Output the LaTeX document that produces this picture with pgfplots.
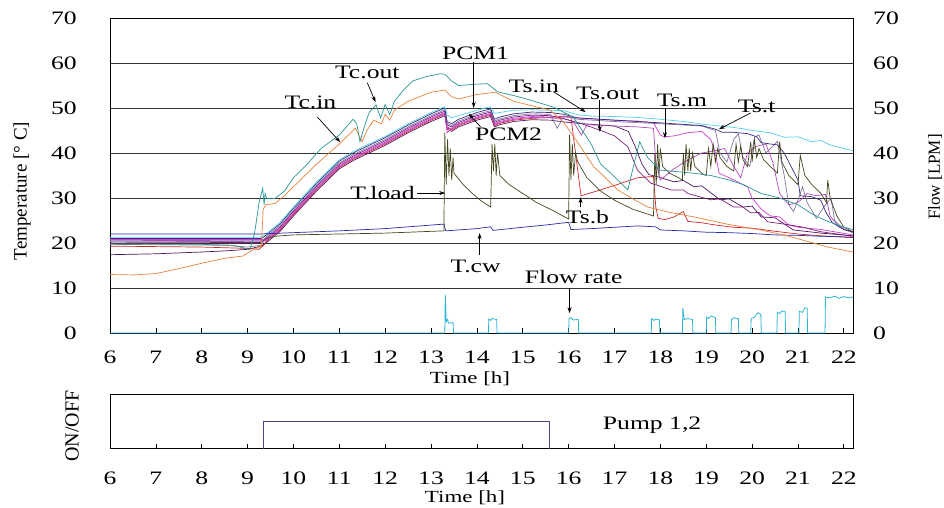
\documentclass[border=0pt]{standalone}
\usepackage{fontspec}
\setmainfont{Liberation Serif}
\newfontfamily\bt[FakeStretch=1.35]{Liberation Serif}
\usepackage{pgfplots}
\pgfplotsset{compat=1.18}
\usetikzlibrary{arrows.meta}
\definecolor{cteal}{RGB}{40,150,150}
\definecolor{corange}{RGB}{232,130,60}
\definecolor{ccyan}{RGB}{80,210,230}
\definecolor{ctst}{RGB}{60,40,130}
\definecolor{cgpur}{RGB}{130,115,160}
\definecolor{cpur}{RGB}{125,30,125}
\definecolor{cmag}{RGB}{210,60,210}
\definecolor{cmag2}{RGB}{180,70,190}
\definecolor{cred}{RGB}{210,40,40}
\definecolor{cdpur}{RGB}{80,20,100}
\definecolor{cload}{RGB}{70,70,30}
\definecolor{ccw}{RGB}{40,40,170}
\definecolor{cflow}{RGB}{40,180,215}
\definecolor{cpump}{RGB}{70,70,130}
\begin{document}
\begin{tikzpicture}
\path[use as bounding box] (0,0) rectangle (944pt,507pt);
\pgfplotsset{every axis plot/.append style={line width=0.7pt}}
% ---------------- top axis (temperature) ----------------
\begin{axis}[at={(110pt,174pt)}, anchor=south west, scale only axis,
  width=743pt, height=315pt, xmin=6, xmax=22.2, ymin=0, ymax=70,
  xtick={6,...,22}, ytick={0,10,...,70}, xtick pos=bottom, ytick pos=left,
  tick align=inside, major tick length=5pt, y tick style={draw=none},
  x tick style={black, line width=0.7pt},
  ymajorgrids, grid style={black!80, line width=0.6pt},
  axis line style={line width=0.7pt},
  /pgf/number format/assume math mode=true,
  ticklabel style={font=\bt\fontsize{19}{19}\selectfont, inner sep=0pt},
  xticklabel style={anchor=center, yshift=-24pt},
  yticklabel style={anchor=east, xshift=-33pt}]
% pre-heating gray line
\addplot[color=gray] coordinates {(6,19.7)(8.5,19.5)(9.0,19.1)(9.3,19.5)(9.4,21.0)};
% dark purple
\addplot[color=cdpur] coordinates {(6,17.4)(7,17.6)(8,18.0)(8.6,18.3)(9.0,18.6)(9.3,19.3)(9.4,20.0)(9.7,22.5)(10,26.0)(10.5,31.5)(11,36.5)(11.3,38.3)(11.5,39.3)(12,41.7)(12.5,44.5)(13,47.0)(13.3,48.3)(13.35,45.3)(13.45,44.8)(13.6,45.8)(14,47.3)(14.3,48.1)(14.38,45.8)(14.5,46.3)(14.8,47.0)(15.2,47.4)(15.6,47.3)(15.9,46.9)(16.2,46.6)(16.6,46.3)(17.0,46.0)(17.3,44.8)(17.45,41.5)(17.6,37.5)(17.75,35.2)(17.95,34.7)(18.3,33.6)(18.5,33.9)(18.73,32.5)(18.9,32.7)(19.3,29.6)(19.5,29.8)(19.8,28.0)(20.0,28.2)(20.2,25.8)(20.5,25.6)(20.9,22.9)(21.5,22.2)(22.2,21.6)};
% red Ts.b
\addplot[color=cred] coordinates {(6,19.3)(8,19.1)(9.0,18.8)(9.25,18.6)(9.35,19.5)(9.4,20.3)(9.7,22.8)(10,26.3)(10.5,31.8)(11,36.8)(11.3,38.6)(11.5,39.6)(12,42.0)(12.5,44.8)(13,47.3)(13.3,48.6)(13.35,45.6)(13.45,45.1)(13.6,46.1)(14,47.6)(14.3,48.4)(14.38,46.1)(14.5,46.6)(14.8,47.3)(15.2,47.7)(15.6,47.9)(15.9,48.2)(16.05,48.0)(16.1,44.0)(16.2,36.0)(16.27,30.5)(16.6,31.5)(17.0,32.8)(17.5,34.5)(17.85,34.8)(17.9,28.0)(17.95,25.5)(18.1,25.2)(18.3,25.8)(18.5,27.0)(18.6,24.8)(18.9,24.5)(19.2,24.0)(19.6,23.5)(20.0,23.3)(20.5,22.6)(21.0,22.0)(21.5,21.6)(22.2,21.2)};
% magenta2
\addplot[color=cmag2] coordinates {(6,20.6)(9.3,20.5)(9.4,20.5)(9.7,23.0)(10,26.5)(10.5,32.0)(11,37.0)(11.3,38.8)(11.5,39.8)(12,42.2)(12.5,45.0)(13,47.5)(13.3,48.8)(13.35,45.8)(13.45,45.3)(13.6,46.3)(14,47.8)(14.3,48.6)(14.38,46.3)(14.5,46.8)(14.8,47.5)(15.2,47.9)(15.6,47.8)(15.9,47.6)(16.1,47.0)(16.28,44.0)(16.4,46.3)(17.0,46.0)(17.5,45.8)(17.85,45.5)(17.9,38.0)(18.0,34.0)(18.3,36.5)(18.6,38.5)(18.9,40.0)(19.2,40.5)(19.4,41.0)(19.6,37.0)(19.75,34.5)(19.9,40.0)(20.1,41.5)(20.3,42.0)(20.45,38.0)(20.6,31.0)(20.8,28.5)(21.0,29.0)(21.2,31.0)(21.4,30.5)(21.6,30.8)(21.7,26.0)(21.9,23.5)(22.2,22.3)};
% magenta Ts.m
\addplot[color=cmag] coordinates {(6,20.8)(9.3,20.8)(9.4,20.7)(9.7,23.2)(10,26.7)(10.5,32.2)(11,37.2)(11.3,39.0)(11.5,40.0)(12,42.4)(12.5,45.2)(13,47.7)(13.3,49.0)(13.35,44.5)(13.45,45.5)(13.6,46.5)(14,48.0)(14.3,48.8)(14.38,46.5)(14.5,47.0)(14.8,47.7)(15.2,48.1)(15.6,48.0)(15.9,48.0)(16.5,47.6)(17.0,47.3)(17.5,47.1)(17.85,46.7)(18.0,44.0)(18.08,43.6)(18.3,43.8)(18.6,44.5)(18.9,44.8)(19.1,43.0)(19.2,40.0)(19.28,35.5)(19.5,34.5)(19.7,33.5)(19.9,32.5)(20.0,30.0)(20.2,27.5)(20.4,26.0)(20.6,25.8)(20.8,24.0)(21.0,23.5)(21.5,23.0)(22.2,21.8)};
% purple Ts.out
\addplot[color=cpur] coordinates {(6,20.2)(9.3,20.1)(9.4,21.0)(9.7,23.5)(10,27.0)(10.5,32.5)(11,37.5)(11.3,39.3)(11.5,40.3)(12,42.7)(12.5,45.5)(13,48.0)(13.3,49.3)(13.35,46.3)(13.45,45.8)(13.6,46.8)(14,48.3)(14.3,49.1)(14.38,46.8)(14.5,47.3)(14.8,48.0)(15.2,48.4)(15.6,48.3)(15.83,47.8)(16.26,46.6)(16.7,45.0)(17.0,43.8)(17.29,41.4)(17.5,36.2)(17.79,33.3)(18.0,32.6)(18.23,31.8)(18.5,31.8)(18.6,31.0)(18.88,30.2)(19.1,29.6)(19.3,29.8)(19.6,28.0)(19.8,28.0)(19.97,26.7)(20.15,26.8)(20.34,24.7)(20.7,24.2)(21.07,23.6)(21.5,22.5)(22.2,21.5)};
% gray purple
\addplot[color=cgpur] coordinates {(6,20.4)(9.3,20.3)(9.4,21.3)(9.7,23.8)(10,27.3)(10.5,32.8)(11,37.8)(11.3,39.6)(11.5,40.6)(12,43.0)(12.5,45.8)(13,48.3)(13.3,49.6)(13.35,46.6)(13.45,46.1)(13.6,47.1)(14,48.6)(14.3,49.4)(14.38,47.1)(14.5,47.6)(14.8,48.3)(15.2,48.7)(15.6,48.6)(15.75,45.5)(15.9,48.2)(16.2,47.5)(17,47.0)(18,46.5)(18.9,46.0)(19.2,45.0)(19.3,40.0)(19.45,38.0)(19.6,43.0)(19.7,44.3)(19.8,39.0)(19.95,37.0)(20.05,43.5)(20.15,44.0)(20.3,40.0)(20.45,41.5)(20.55,42.6)(20.7,35.0)(20.8,28.5)(20.9,27.0)(21.0,29.5)(21.1,32.5)(21.2,29.0)(21.4,25.5)(21.6,28.5)(21.72,30.0)(21.8,25.0)(22.0,23.0)(22.2,22.3)};
% Ts.t navy purple
\addplot[color=ctst] coordinates {(6,21.0)(9.3,21.0)(9.4,21.7)(9.7,24.2)(10,27.7)(10.5,33.2)(11,38.2)(11.3,40.0)(11.5,41.0)(12,43.4)(12.5,46.2)(13,48.7)(13.3,50.0)(13.35,47.0)(13.45,46.5)(13.6,47.5)(14,49.0)(14.3,49.8)(14.38,47.5)(14.5,48.0)(14.8,48.7)(15.2,49.1)(15.6,49.0)(15.9,48.6)(16.2,47.8)(17,47.3)(18,46.7)(18.9,46.1)(19.2,45.3)(19.35,44.6)(19.6,44.6)(19.9,44.3)(20.1,43.6)(20.2,42.3)(20.4,42.0)(20.55,41.8)(20.7,40.0)(20.85,37.0)(21.0,34.0)(21.05,30.5)(21.3,30.3)(21.5,29.5)(21.6,27.0)(21.75,24.5)(22.0,23.0)(22.2,22.5)};
% cyan Ts.in
\addplot[color=ccyan] coordinates {(6,21.3)(9.3,21.3)(9.4,22.0)(9.7,24.5)(10,28.0)(10.5,33.5)(11,38.5)(11.3,40.3)(11.5,41.3)(12,43.7)(12.5,46.5)(13,49.0)(13.3,50.3)(13.35,48.5)(13.45,47.8)(13.6,48.3)(14,49.5)(14.3,50.3)(14.38,48.8)(14.5,49.0)(14.8,49.5)(15.2,49.6)(15.6,49.5)(15.9,49.4)(16.2,48.5)(16.5,48.2)(17,48.1)(17.5,47.9)(18,47.5)(18.5,47.0)(19,46.3)(19.3,46.0)(19.5,45.8)(19.8,45.4)(20,45.0)(20.4,44.5)(20.7,43.5)(21,43.6)(21.3,42.5)(21.5,42.8)(21.7,41.8)(22.0,41.0)(22.2,40.5)};
% T.cw
\addplot[color=ccw] coordinates {(6,22.0)(9.3,22.0)(9.5,22.1)(10,22.3)(11,22.7)(12,23.2)(13.28,24.2)(13.32,22.7)(14.0,23.2)(14.3,23.6)(14.35,22.8)(15.0,23.5)(15.5,24.0)(16.0,24.6)(16.05,23.0)(16.5,23.2)(17.0,23.5)(17.5,23.8)(17.9,23.6)(18.0,22.9)(18.5,22.7)(19.0,22.4)(19.5,22.3)(20.0,22.1)(20.5,21.8)(21.0,21.7)(21.5,21.5)(22.2,21.3)};
% T.load
\addplot[color=cload] coordinates {(9.4,21.0)(9.6,21.5)(10,21.8)(11,22.0)(12,22.2)(13.28,22.7)(13.3,44.5)(13.33,33)(13.36,43)(13.39,35)(13.42,41)(13.45,34)(13.48,39)(13.5,35.5)(13.7,33)(13.9,31)(14.1,29.3)(14.3,28)(14.33,42)(14.36,36)(14.39,42)(14.42,35)(14.45,40)(14.5,35)(14.7,33)(15.0,31)(15.3,29)(15.7,27)(16.0,25.3)(16.02,44)(16.05,34)(16.08,42)(16.11,35)(16.15,40)(16.2,38)(16.4,34.5)(16.7,31.5)(17.0,29.5)(17.4,27.5)(17.85,26)(17.88,40)(17.91,33)(17.94,42)(17.97,35)(18.0,41)(18.05,37)(18.2,35.5)(18.4,34.5)(18.48,34)(18.5,40)(18.53,35)(18.56,42)(18.6,36)(18.63,41)(18.66,36)(18.7,40)(18.75,37)(18.9,35.5)(19.0,35)(19.05,41)(19.1,37)(19.15,42)(19.2,38)(19.25,41)(19.3,39)(19.45,37)(19.6,36)(19.65,42)(19.7,38)(19.75,41.5)(19.8,38.5)(19.9,37)(19.97,42.5)(20.0,38)(20.05,43)(20.1,39)(20.15,41)(20.25,38.5)(20.4,37)(20.55,35.5)(20.6,42.5)(20.65,38)(20.8,35)(21.0,33)(21.05,39.5)(21.15,35)(21.3,33)(21.5,31)(21.62,29)(21.65,34)(21.7,30)(21.85,26)(22.0,23.5)(22.2,22.5)};
% Tc.in
\addplot[color=corange] coordinates {(6,13)(6.5,12.9)(7,13.2)(7.5,14.3)(8,15.5)(8.5,16.6)(8.9,17.1)(9.0,17.8)(9.15,18.6)(9.3,19.3)(9.34,27.5)(9.4,28.5)(9.6,28.8)(9.8,30.5)(10,32.5)(10.5,37.5)(11,42)(11.35,45.5)(11.5,42.5)(11.6,45)(11.75,47.3)(11.85,46.8)(11.92,46.5)(12.0,48.6)(12.1,47.3)(12.2,49.5)(12.5,51.5)(13.0,53.5)(13.3,54.0)(13.45,52.5)(13.6,52)(14.0,53.0)(14.4,53.5)(14.6,52.5)(14.8,51.5)(15.2,50.5)(15.6,49.5)(15.9,46.7)(16.26,41.4)(16.55,36.9)(16.7,35.5)(17.07,31.8)(17.4,29.8)(17.72,28)(18.2,26.8)(18.73,25.8)(19.5,24.1)(20.19,22.9)(20.8,21.5)(21.65,19.1)(22.2,18)};
% Tc.out
\addplot[color=cteal] coordinates {(6,19.8)(8,19.7)(8.7,19.5)(9.05,18.5)(9.15,22)(9.25,29)(9.33,32.2)(9.36,28.5)(9.38,31)(9.42,29.8)(9.6,29.9)(9.8,31.5)(10,34.5)(10.3,37.5)(10.6,41)(11,44)(11.3,47.5)(11.38,46.5)(11.45,42.5)(11.55,46)(11.65,49)(11.8,50.7)(11.9,47.8)(12.0,50.8)(12.1,48.5)(12.2,51.5)(12.4,54)(12.6,56)(12.9,57)(13.2,57.6)(13.3,57.5)(13.45,56)(13.6,55)(14.0,55.3)(14.23,55.4)(14.45,53.6)(14.95,52.4)(15.67,50.2)(16.1,48)(16.48,42.2)(16.7,37.5)(16.92,35.5)(17.29,31.8)(17.46,39)(17.55,42.5)(17.72,39)(18.0,36.2)(18.73,35.5)(19.1,35)(19.5,34)(19.8,33)(20.2,31)(20.6,30)(21.0,28.5)(21.3,26.5)(21.6,25)(22.0,23.5)(22.2,23)};
% annotations
\tikzset{ann/.style={font=\bt\fontsize{19}{19}\selectfont, inner sep=0pt},
         arr/.style={-{Stealth[length=6pt,width=4pt]}, line width=0.7pt, black}}
\node[ann] at (axis cs:10.37,51.3) {Tc.in};
\draw[arr] (axis cs:10.52,48.0) -- (axis cs:11.02,42.4);
\node[ann] at (axis cs:11.61,57.8) {Tc.out};
\draw[arr] (axis cs:11.61,55.6) -- (axis cs:11.79,51.3);
\node[ann] at (axis cs:13.97,62.2) {PCM1};
\draw[arr] (axis cs:13.93,60.2) -- (axis cs:13.93,50.0);
\node[ann] at (axis cs:14.69,44.2) {PCM2};
\draw[arr] (axis cs:14.08,45.8) -- (axis cs:13.82,48.7);
\node[ann] at (axis cs:15.24,54.9) {Ts.in};
\draw[arr] (axis cs:15.67,53.6) -- (axis cs:16.37,49.1);
\node[ann] at (axis cs:16.85,53.3) {Ts.out};
\draw[arr] (axis cs:16.68,51.8) -- (axis cs:16.68,44.7);
\node[ann] at (axis cs:18.47,51.6) {Ts.m};
\draw[arr] (axis cs:18.10,50.0) -- (axis cs:18.10,43.3);
\node[ann] at (axis cs:20.10,50.4) {Ts.t};
\draw[arr] (axis cs:19.97,48.9) -- (axis cs:19.28,45.3);
\node[ann] at (axis cs:11.94,31.1) {T.load};
\draw[arr] (axis cs:12.70,31.1) -- (axis cs:13.31,31.1);
\node[ann] at (axis cs:16.41,25.8) {Ts.b};
\draw[arr] (axis cs:16.26,28.0) -- (axis cs:16.26,30.2);
\node[ann] at (axis cs:13.97,14.9) {T.cw};
\draw[arr] (axis cs:14.06,17.3) -- (axis cs:14.06,22.2);
\node[ann] at (axis cs:16.11,12.4) {Flow rate};
\draw[arr] (axis cs:16.02,10.0) -- (axis cs:16.02,4.4);
\end{axis}
% ---------------- right axis (flow) ----------------
\begin{axis}[at={(110pt,174pt)}, anchor=south west, scale only axis,
  width=743pt, height=315pt, xmin=6, xmax=22.2, ymin=0, ymax=70,
  axis x line=none, axis y line*=right, ytick={0,10,...,70},
  y tick style={draw=none}, axis line style={line width=0.7pt},
  /pgf/number format/assume math mode=true,
  ticklabel style={font=\bt\fontsize{19}{19}\selectfont, inner sep=0pt},
  yticklabel style={anchor=west, xshift=20pt}]
\addplot[color=cflow, line width=0.8pt] coordinates {(6,0)(13.3,0)(13.31,8.5)(13.33,2.5)(13.36,3.0)(13.38,2.2)(13.48,2.3)(13.49,0)(14.25,0)(14.26,3.1)(14.3,2.8)(14.33,3.2)(14.43,3)(14.44,0)(16.0,0)(16.01,3.2)(16.05,3.4)(16.1,2.9)(16.21,3)(16.22,0)(17.8,0)(17.81,3.2)(17.86,2.8)(17.9,3.1)(17.98,2.9)(17.99,0)(18.48,0)(18.49,5.5)(18.52,3)(18.6,3.2)(18.7,3)(18.71,0)(19.0,0)(19.01,3.6)(19.05,3.2)(19.1,3.8)(19.2,3.4)(19.21,0)(19.54,0)(19.55,3.0)(19.6,3.4)(19.7,3.2)(19.71,0)(19.97,0)(19.98,3.2)(20.05,3.5)(20.12,4.5)(20.19,4.2)(20.2,0)(20.54,0)(20.55,4.6)(20.6,4.3)(20.65,4.9)(20.72,4.7)(20.73,0)(21.02,0)(21.03,4.8)(21.1,4.6)(21.15,5.6)(21.2,5.5)(21.21,0)(21.59,0)(21.6,8.0)(21.7,7.8)(21.8,8.2)(21.9,7.7)(22.0,8.1)(22.1,7.8)(22.2,8.0)};
\end{axis}
% ---------------- bottom axis (pump) ----------------
\begin{axis}[at={(110pt,58.3pt)}, anchor=south west, scale only axis,
  width=743pt, height=54.4pt, xmin=6, xmax=22.2, ymin=0, ymax=1,
  xtick={6,...,22}, ytick=\empty, xtick pos=bottom,
  tick align=inside, major tick length=5pt,
  x tick style={black, line width=0.7pt},
  axis line style={line width=0.7pt},
  /pgf/number format/assume math mode=true,
  ticklabel style={font=\bt\fontsize{19}{19}\selectfont, inner sep=0pt},
  xticklabel style={anchor=center, yshift=-30pt}]
\addplot[color=cpump, line width=0.8pt] coordinates {(9.35,0)(9.35,0.5)(15.59,0.5)(15.59,0)};
\node[font=\bt\fontsize{19}{19}\selectfont, inner sep=0pt] at (axis cs:17.82,0.44) {Pump 1,2};
\end{axis}
% ---------------- axis titles ----------------
\node[font=\fontsize{19}{19}\selectfont, rotate=90, inner sep=0pt] at (22pt,316pt) {Temperature [° C]};
\node[font=\fontsize{17}{17}\selectfont, rotate=90, inner sep=0pt] at (935pt,330pt) {Flow [LPM]};
\node[font=\fontsize{20}{20}\selectfont, rotate=90, inner sep=0pt] at (72pt,81pt) {ON/OFF};
\node[font=\bt\fontsize{17}{17}\selectfont, inner sep=0pt] at (470pt,128pt) {Time [h]};
\node[font=\bt\fontsize{17}{17}\selectfont, inner sep=0pt] at (465pt,9pt) {Time [h]};
\end{tikzpicture}
\end{document}
